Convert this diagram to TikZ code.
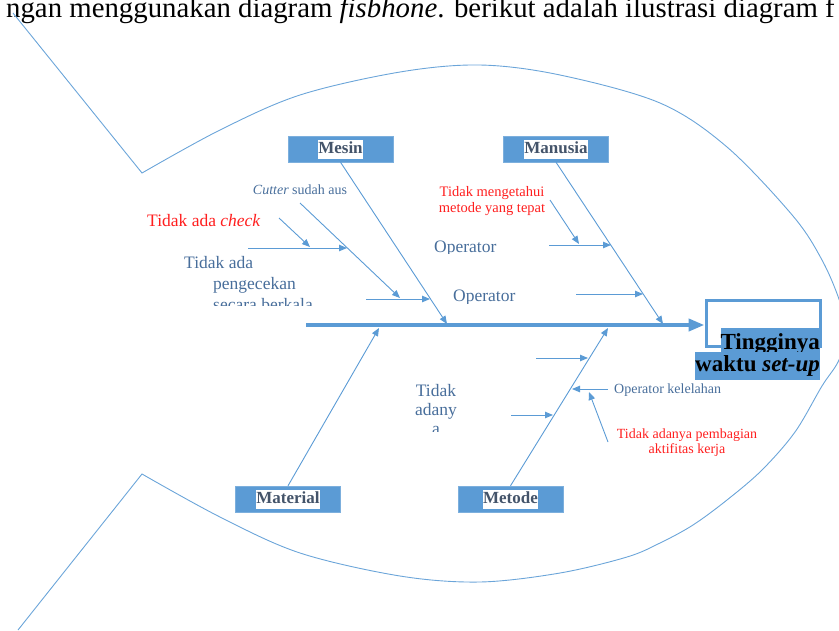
\documentclass[tikz,border=0pt]{standalone}
\usepackage{fontspec}
\setmainfont{Liberation Serif}
\usetikzlibrary{arrows.meta}
\definecolor{bl}{RGB}{91,155,213}
\definecolor{txtc}{RGB}{72,110,155}
\definecolor{labc}{RGB}{68,84,106}
\definecolor{redc}{RGB}{255,30,30}
\begin{document}
\begin{tikzpicture}[x=1pt,y=-1pt,
  bone/.style={draw=bl,line width=0.9pt,-{Triangle[length=8pt,width=6.5pt]}},
  spineline/.style={draw=bl,line width=4pt,-{Triangle[length=16pt,width=12pt]}},
  fishline/.style={draw=bl!90,line width=0.9pt},
  catbox/.style={fill=bl,draw=bl!80!white,minimum width=105pt,minimum height=26pt,inner sep=0pt},
  catlabel/.style={fill=white,text=labc,font=\fontsize{17}{17}\selectfont\bfseries,inner xsep=0.5pt,inner ysep=1pt,text height=13pt,text depth=4pt},
  bodytext/.style={text=txtc,font=\fontsize{17.5}{20}\selectfont,inner sep=0pt,anchor=base west},
  bodyc/.style={text=txtc,font=\fontsize{17.5}{20}\selectfont,inner sep=0pt,anchor=base},
  smalltext/.style={text=txtc,font=\fontsize{14}{16}\selectfont,inner sep=0pt,anchor=base west},
  redsmall/.style={text=redc,font=\fontsize{14.5}{16}\selectfont,inner sep=0pt,anchor=base},
  efftext/.style={fill=bl,inner sep=0pt,anchor=base east,font=\fontsize{23}{23}\selectfont\bfseries},
]
\useasboundingbox (0,0) rectangle (839,630);
\clip (0,0) rectangle (839,630);

% top line of text (cut at the top edge, as in the reference)
\node[anchor=base west,inner sep=0pt,font=\fontsize{28.8}{29}\selectfont] (toptext) at (6,17)
  {ngan menggunakan diagram \textit{fisbhone}. berikut adalah ilustrasi diagram f};

% fish outline
\draw[fishline] (13,13) -- (142,173) -- plot[smooth,tension=0.55] coordinates {
  (142,173) (220,130) (300,95) (400,72) (480,65) (560,75) (660,103) (727,147)
  (793,216) (822,260) (840,302) (847,335) (838,362) (822,386) (795,432) (762,470) (727,500)
  (693,525) (660,543) (627,557) (560,573) (480,582) (400,576) (300,553) (220,517) (142,474)}
  -- (18,630);

% category boxes
\node[catbox] (mesinbox) at (340.5,149) {};
\node[catlabel] (mesin) at (mesinbox.center) {Mesin};
\node[catbox] (manusiabox) at (556,149) {};
\node[catlabel] (manusia) at (manusiabox.center) {Manusia};
\node[catbox] (materialbox) at (288,499) {};
\node[catlabel] (material) at (materialbox.center) {Material};
\node[catbox] (metodebox) at (510.5,499) {};
\node[catlabel] (metode) at (metodebox.center) {Metode};

% effect box
\node[draw=bl,line width=3pt,fill=white,minimum width=114pt,minimum height=46pt,inner sep=0pt] (effect) at (763,323) {};
\coordinate (spineL) at (306,325);
\draw[spineline] (spineL) -- (spineL -| effect.west);
\node[efftext,text height=21pt,text depth=3pt] (eff1) at (820,349) {Tingginya};
\node[efftext,text height=19pt,text depth=9pt] (eff2) at (820,371) {waktu \textit{set-up}};

% main bones
\coordinate (mesinEnd) at (447,324);
\coordinate (manusiaEnd) at (663,324);
\coordinate (materialEnd) at (379,328);
\coordinate (metodeEnd) at (608,328);
\draw[bone] (mesinbox.south) -- (mesinEnd);
\draw[bone] (manusiabox.south) -- (manusiaEnd);
\draw[bone] (materialbox.north) -- (materialEnd);
\draw[bone] (metodebox.north) -- (metodeEnd);

% Mesin sub-bones
\coordinate (ma1s) at (248,248); \coordinate (ma1e) at (347,248);
\coordinate (ma2s) at (366,299); \coordinate (ma2e) at (430,299);
\coordinate (cuts) at (300,203); \coordinate (cute) at (400,298);
\coordinate (chks) at (279,218); \coordinate (chke) at (310,247);
\draw[bone] (ma1s) -- (ma1e);
\draw[bone] (ma2s) -- (ma2e);
\draw[bone] (cuts) -- (cute);
\draw[bone] (chks) -- (chke);
\node[smalltext,anchor=base] (cutter) at (300,194) {\textit{Cutter} sudah aus};
\node[bodytext,text=redc] (check) at (147,226) {Tidak ada \textit{check}};
\begin{scope}
\clip (150,252) rectangle (345,305);
\node[bodytext] (peng1) at (184,268) {Tidak ada};
\node[bodytext] (peng2) at (213,289) {pengecekan};
\node[bodytext] (peng3) at (213,310) {secara berkala};
\end{scope}

% Manusia sub-bones
\coordinate (mn1s) at (549,245); \coordinate (mn1e) at (611,245);
\coordinate (mn2s) at (576,294); \coordinate (mn2e) at (643,294);
\coordinate (mtds) at (550,200); \coordinate (mtde) at (579,244);
\draw[bone] (mn1s) -- (mn1e);
\draw[bone] (mn2s) -- (mn2e);
\draw[bone] (mtds) -- (mtde);
\node[redsmall] (tm1) at (492,196) {Tidak mengetahui};
\node[redsmall] (tm2) at (492,212) {metode yang tepat};
\begin{scope}
\clip (425,230) rectangle (530,253.5);
\node[bodytext] (op1) at (434,252) {Operator};
\end{scope}
\begin{scope}
\clip (445,280) rectangle (540,303);
\node[bodytext] (op2) at (453,301) {Operator};
\end{scope}

% Metode sub-bones
\coordinate (mt1s) at (536,358); \coordinate (mt1e) at (588,358);
\coordinate (mt2s) at (511,415); \coordinate (mt2e) at (553,415);
\coordinate (kels) at (608,389); \coordinate (kele) at (572,389);
\coordinate (bags) at (608,442); \coordinate (bage) at (589,392);
\draw[bone] (mt1s) -- (mt1e);
\draw[bone] (mt2s) -- (mt2e);
\draw[bone] (kels) -- (kele);
\draw[bone] (bags) -- (bage);
\node[smalltext] (kel) at (614,393) {Operator kelelahan};
\node[redsmall,font=\fontsize{14}{16}\selectfont] (bag1) at (687,438) {Tidak adanya pembagian};
\node[redsmall,font=\fontsize{14}{16}\selectfont] (bag2) at (687,453) {aktifitas kerja};
\begin{scope}
\clip (395,375) rectangle (480,431);
\node[bodyc] (ta1) at (436,396) {Tidak};
\node[bodyc] (ta2) at (436,415) {adany};
\node[bodyc] (ta3) at (436,434) {a};
\end{scope}
\end{tikzpicture}
\end{document}
